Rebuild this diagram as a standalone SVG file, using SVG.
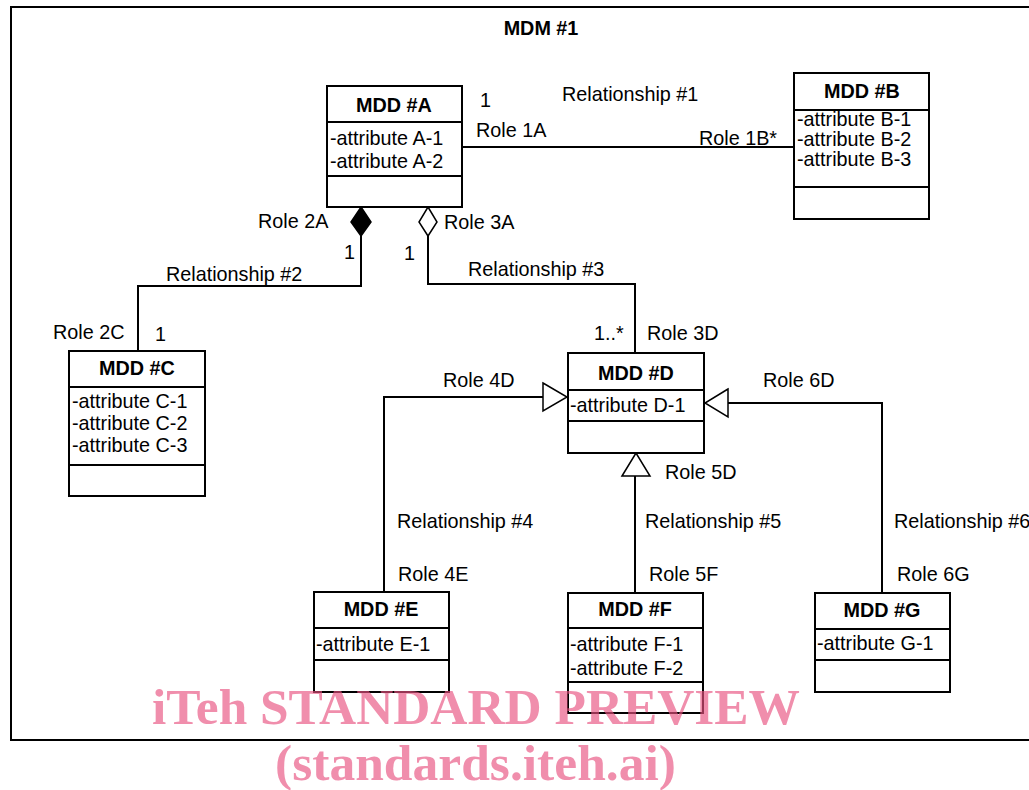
<svg xmlns="http://www.w3.org/2000/svg" width="1029" height="790" viewBox="0 0 1029 790">
<style>
text{font-family:"Liberation Sans",Arial,sans-serif;font-size:19.8px;fill:#000}
.b{font-weight:bold;text-anchor:middle}
.box{fill:#fff;stroke:#000;stroke-width:2}
.sep{stroke:#000;stroke-width:2}
.con{fill:none;stroke:#000;stroke-width:2}
.wm{font-family:"Liberation Serif","Times New Roman",serif;font-weight:bold;font-size:51px;fill:#e8527f;fill-opacity:0.65}
</style>
<rect x="0" y="0" width="1029" height="790" fill="#fff"/>
<rect x="11" y="7" width="1030" height="733" fill="none" stroke="#000" stroke-width="2"/>
<text class="b" x="541" y="35">MDM #1</text>

<g id="connectors">
  <path class="con" d="M462,147 H794"/>
  <path class="con" d="M361,236 V286 H138 V351"/>
  <polygon points="361,207 371,222 361,236 351,222" fill="#000" stroke="#000" stroke-width="1.5"/>
  <path class="con" d="M428,236 V284 H635 V353"/>
  <polygon points="428,207 437,222 428,236 419,222" fill="#fff" stroke="#000" stroke-width="1.5"/>
  <path class="con" d="M384,592 V397 H543"/>
  <polygon points="543,383 567,397 543,411" fill="#fff" stroke="#000" stroke-width="1.5"/>
  <path class="con" d="M635,593 V476"/>
  <polygon points="622,476 636,453 650,476" fill="#fff" stroke="#000" stroke-width="1.5"/>
  <path class="con" d="M882,593 V403 H728"/>
  <polygon points="728,389 705,403 728,417" fill="#fff" stroke="#000" stroke-width="1.5"/>
</g>

<g id="labels">
  <text x="480" y="107">1</text>
  <text x="562" y="101">Relationship #1</text>
  <text x="476" y="137">Role 1A</text>
  <text x="699" y="145">Role 1B*</text>
  <text x="258" y="228">Role 2A</text>
  <text x="344" y="259">1</text>
  <text x="166" y="281">Relationship #2</text>
  <text x="53" y="339">Role 2C</text>
  <text x="155" y="341">1</text>
  <text x="444" y="229">Role 3A</text>
  <text x="404" y="260">1</text>
  <text x="468" y="276">Relationship #3</text>
  <text x="594" y="340">1..*</text>
  <text x="647" y="340">Role 3D</text>
  <text x="443" y="387">Role 4D</text>
  <text x="763" y="387">Role 6D</text>
  <text x="665" y="479">Role 5D</text>
  <text x="397" y="528">Relationship #4</text>
  <text x="645" y="528">Relationship #5</text>
  <text x="894" y="528">Relationship #6</text>
  <text x="398" y="581">Role 4E</text>
  <text x="649" y="581">Role 5F</text>
  <text x="897" y="581">Role 6G</text>
</g>

<g id="mdd-a">
  <rect class="box" x="327" y="86" width="135" height="121"/>
  <line class="sep" x1="327" y1="122" x2="462" y2="122"/>
  <line class="sep" x1="327" y1="176" x2="462" y2="176"/>
  <text class="b" x="394" y="112">MDD #A</text>
  <text x="330" y="145">-attribute A-1</text>
  <text x="330" y="168">-attribute A-2</text>
</g>

<g id="mdd-b">
  <rect class="box" x="794" y="73" width="135" height="146"/>
  <line class="sep" x1="794" y1="110" x2="929" y2="110"/>
  <line class="sep" x1="794" y1="187" x2="929" y2="187"/>
  <text class="b" x="862" y="98">MDD #B</text>
  <text x="797" y="126">-attribute B-1</text>
  <text x="797" y="146">-attribute B-2</text>
  <text x="797" y="166">-attribute B-3</text>
</g>

<g id="mdd-c">
  <rect class="box" x="69" y="351" width="136" height="145"/>
  <line class="sep" x1="69" y1="387" x2="205" y2="387"/>
  <line class="sep" x1="69" y1="465" x2="205" y2="465"/>
  <text class="b" x="137" y="375">MDD #C</text>
  <text x="72" y="408">-attribute C-1</text>
  <text x="72" y="430">-attribute C-2</text>
  <text x="72" y="452">-attribute C-3</text>
</g>

<g id="mdd-d">
  <rect class="box" x="568" y="353" width="136" height="100"/>
  <line class="sep" x1="568" y1="390" x2="704" y2="390"/>
  <line class="sep" x1="568" y1="421" x2="704" y2="421"/>
  <text class="b" x="636" y="380">MDD #D</text>
  <text x="570" y="412">-attribute D-1</text>
</g>

<g id="mdd-e">
  <rect class="box" x="314" y="592" width="135" height="100"/>
  <line class="sep" x1="314" y1="628" x2="449" y2="628"/>
  <line class="sep" x1="314" y1="660" x2="449" y2="660"/>
  <text class="b" x="381" y="616">MDD #E</text>
  <text x="316" y="651">-attribute E-1</text>
</g>

<g id="mdd-f">
  <rect class="box" x="568" y="593" width="135" height="120"/>
  <line class="sep" x1="568" y1="628" x2="703" y2="628"/>
  <line class="sep" x1="568" y1="682" x2="703" y2="682"/>
  <text class="b" x="635" y="616">MDD #F</text>
  <text x="570" y="651">-attribute F-1</text>
  <text x="570" y="675">-attribute F-2</text>
</g>

<g id="mdd-g">
  <rect class="box" x="815" y="593" width="135" height="99"/>
  <line class="sep" x1="815" y1="629" x2="950" y2="629"/>
  <line class="sep" x1="815" y1="660" x2="950" y2="660"/>
  <text class="b" x="882" y="617">MDD #G</text>
  <text x="817" y="650">-attribute G-1</text>
</g>

<g id="watermark">
  <text class="wm" x="152" y="724" textLength="648" lengthAdjust="spacingAndGlyphs">iTeh STANDARD PREVIEW</text>
  <text class="wm" x="275" y="780" textLength="401" lengthAdjust="spacingAndGlyphs">(standards.iteh.ai)</text>
</g>
</svg>
